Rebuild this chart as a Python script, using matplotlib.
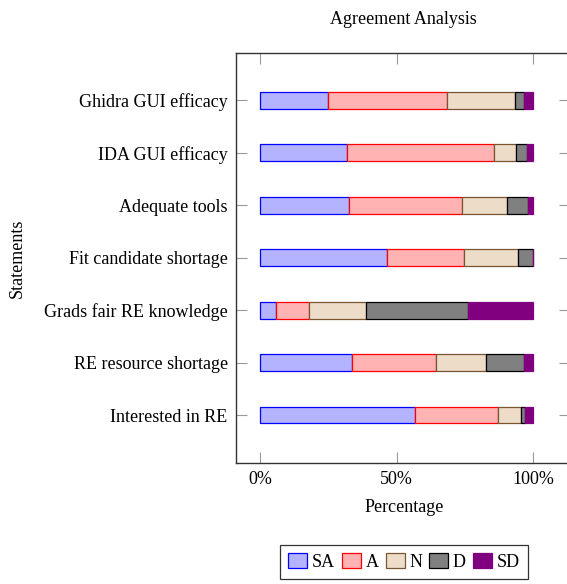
import matplotlib
matplotlib.use("Agg")
import matplotlib.pyplot as plt
import numpy as np

statements = ["Interested in RE", "RE resource shortage", "Grads fair RE knowledge",
              "Fit candidate shortage", "Adequate tools", "IDA GUI efficacy", "Ghidra GUI efficacy"]
SA = [56.9, 33.8, 5.7, 46.5, 32.4, 32.0, 25.0]
A = [30.4, 30.8, 12.4, 28.1, 41.5, 53.8, 43.6]
N = [8.3, 18.1, 20.7, 19.7, 16.6, 8.0, 24.7]
D = [1.3, 14.1, 37.5, 5.7, 7.8, 4.0, 3.2]
SD = [3.1, 3.2, 23.7, 0.0, 1.7, 2.2, 3.5]
series_names = ["SA", "A", "N", "D", "SD"]
xticks = [0, 50, 100]
xtick_labels = ["0%", "50%", "100%"]

fills = ["#b3b3ff", "#ffb3b3", "#ecdcc8", "#808080", "#800080"]
edges = ["#0000ff", "#ff0000", "#7a5533", "#000000", "#800080"]

plt.rcParams['font.family'] = ['Liberation Serif', 'DejaVu Serif']
fs = 13

fig = plt.figure(figsize=(5.67, 5.84), dpi=100)
ax = fig.add_axes([236/567, 1-463/584, (570-236)/567, (463-53)/584])

y = np.arange(len(statements))
left = np.zeros(len(statements))
handles = []
for vals, name, fc, ec in zip([SA, A, N, D, SD], series_names, fills, edges):
    vals = np.array(vals)
    b = ax.barh(y, vals, left=left, height=0.315, color=fc, edgecolor=ec, linewidth=0.9, label=name)
    handles.append(b)
    left += vals

ax.set_xlim(-8.8, 113.5)
ax.set_ylim(-0.91, 6.9)
ax.set_yticks(y)
ax.set_yticklabels(statements, fontsize=fs)
ax.set_xticks(xticks)
ax.set_xticklabels(xtick_labels, fontsize=fs)
ax.tick_params(axis='both', direction='in', length=8, width=0.8, color='#999999',
               top=True, right=True, pad=6)
ax.tick_params(axis='y', pad=6)
for s in ax.spines.values():
    s.set_color('#333333')
    s.set_linewidth(1.0)

ax.set_xlabel("Percentage", fontsize=fs, va='center')
ax.xaxis.set_label_coords((404-236)/334, (463-508)/410)
ax.set_ylabel("Statements", fontsize=fs, va='center')
ax.yaxis.set_label_coords((17-236)/334, 0.5)
ax.set_title("Agreement Analysis", fontsize=fs, pad=21)

leg = fig.legend(handles=handles, labels=series_names, loc='upper center',
                 bbox_to_anchor=(404/567, 1-545/584), ncol=5, fontsize=fs,
                 frameon=True, fancybox=False, edgecolor='black',
                 handlelength=1.05, handleheight=0.85, handletextpad=0.25,
                 columnspacing=0.4, borderpad=0.45, borderaxespad=0.0)
leg.get_frame().set_linewidth(0.9)

fig.savefig("out.png", dpi=100)
